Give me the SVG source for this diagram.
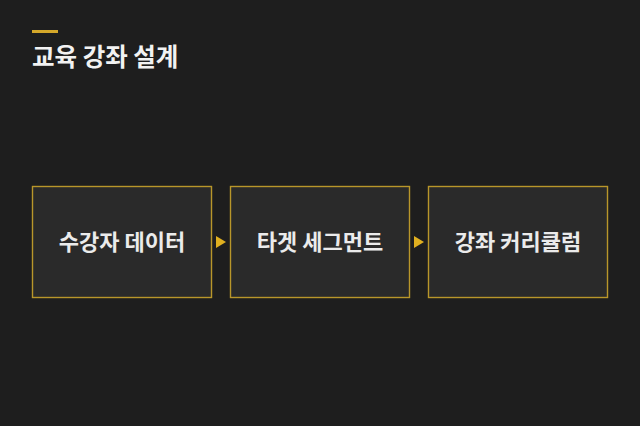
<svg xmlns="http://www.w3.org/2000/svg" width="640" height="426" viewBox="0 0 640 426">
<style>
.bg{fill:#1e1e1e}
.box{fill:#2a2a2a;stroke:#b8962a;stroke-width:1.4}
.lbl{font-family:"Noto Sans CJK KR","Noto Sans",sans-serif;font-weight:700;font-size:22px;fill:#ebebeb;text-anchor:middle}
.title{font-family:"Noto Sans CJK KR","Noto Sans",sans-serif;font-weight:700;font-size:24.5px;fill:#f2f2f2}
.arrow{fill:#e0b020}
</style>
<rect class="bg" x="0" y="0" width="640" height="426"/>
<g id="title">
<rect x="32" y="30" width="26" height="3" fill="#d4a82a"/>
<text class="title" x="32" y="66">교육 강좌 설계</text>
</g>
<g id="node1">
<rect class="box" x="32.5" y="186.5" width="179" height="111"/>
<text class="lbl" x="122" y="250">수강자 데이터</text>
</g>
<g id="node2">
<rect class="box" x="230.5" y="186.5" width="179" height="111"/>
<text class="lbl" x="320" y="250">타겟 세그먼트</text>
</g>
<g id="node3">
<rect class="box" x="428.5" y="186.5" width="179" height="111"/>
<text class="lbl" x="518" y="250">강좌 커리큘럼</text>
</g>
<g id="connectors">
<polygon class="arrow" points="216,236 226,242 216,248"/>
<polygon class="arrow" points="414,236 424,242 414,248"/>
</g>
</svg>
